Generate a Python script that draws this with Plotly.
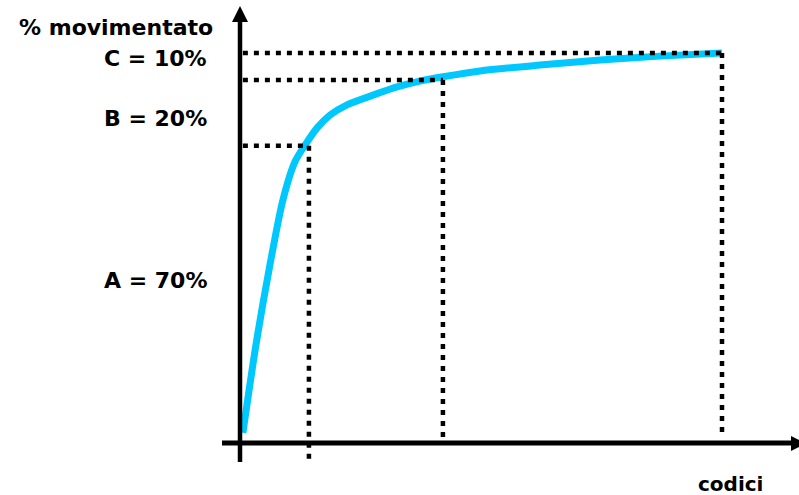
import plotly.graph_objects as go

# Cumulative ABC curve: share of item codes (x, %) vs cumulative share moved (y, %)
codici_pct = [0.6, 3.3, 6.2, 8.9, 11.4, 13.5, 16.0, 18.7, 22.2, 27.6,
              32.6, 37.3, 42.1, 49.8, 62.2, 74.7, 87.1, 100]
movimentato_pct = [2.6, 25.1, 45.6, 62.3, 72.1, 76.4, 80.8, 84.1, 86.7, 89.2,
                   91.3, 92.8, 93.9, 95.4, 96.9, 98.2, 99.2, 100]

# Class boundaries (x = codes %, y = cumulative moved %)
classi = ["A", "B", "C"]
soglia_x = [14.3, 42.1, 100]
soglia_y = [76.2, 93.1, 100]
fondo_y = [-4.4, 0.8, 1.8]          # where each vertical guide stops
etichette = ["A = 70%", "B = 20%", "C = 10%"]
etichette_y = [41.6, 83.3, 98.5]    # label heights on the y scale

W, H = 799, 495
X0, Y0 = 240, 443          # pixel position of the origin
SX, SY = 4.82, 3.9         # pixels per unit


def px2x(px):
    return (px - X0) / SX


def px2y(py):
    return (Y0 - py) / SY


fig = go.Figure()

fig.add_trace(go.Scatter(
    x=codici_pct, y=movimentato_pct, mode="lines",
    line=dict(color="#00C8FF", width=7, shape="spline", smoothing=0.8),
    hoverinfo="skip", showlegend=False))

dot = dict(color="black", width=4.5, dash="5px,6px")
for xs, ys, yb in zip(soglia_x, soglia_y, fondo_y):
    fig.add_trace(go.Scatter(x=[0.6, xs], y=[ys, ys], mode="lines", line=dot,
                             hoverinfo="skip", showlegend=False))
    fig.add_trace(go.Scatter(x=[xs, xs], y=[ys, yb], mode="lines", line=dot,
                             hoverinfo="skip", showlegend=False))

shapes = [
    # y axis
    dict(type="line", x0=px2x(240), x1=px2x(240), y0=px2y(462), y1=px2y(20),
         line=dict(color="black", width=4.5)),
    dict(type="path", path=f"M{px2x(232)},{px2y(22)} L{px2x(248)},{px2y(22)} L{px2x(240)},{px2y(6)} Z",
         fillcolor="black", line=dict(width=0)),
    # x axis
    dict(type="line", x0=px2x(222), x1=px2x(793), y0=0, y1=0,
         line=dict(color="black", width=5)),
    dict(type="path", path=f"M{px2x(791)},{px2y(436)} L{px2x(791)},{px2y(451)} L{px2x(806)},{px2y(443.5)} Z",
         fillcolor="black", line=dict(width=0)),
]

font = dict(family="DejaVu Sans", size=22, color="black")
annotations = [
    dict(x=px2x(215), y=px2y(27), text="<b>% movimentato</b>", showarrow=False,
         xanchor="right", yanchor="middle", font=font),
    dict(x=px2x(765), y=px2y(484), text="<b>codici</b>", showarrow=False,
         xanchor="right", yanchor="middle", font=dict(font, size=20)),
]
for t, yv in zip(etichette, etichette_y):
    annotations.append(dict(x=px2x(209), y=yv, text=f"<b>{t}</b>", showarrow=False,
                            xanchor="right", yanchor="middle", font=font))

fig.update_layout(
    width=W, height=H, margin=dict(l=0, r=0, t=0, b=0),
    paper_bgcolor="white", plot_bgcolor="white",
    xaxis=dict(range=[px2x(0), px2x(W)], visible=False, fixedrange=True),
    yaxis=dict(range=[px2y(H), px2y(0)], visible=False, fixedrange=True),
    shapes=shapes, annotations=annotations, showlegend=False,
)

fig.write_html("out.html")
